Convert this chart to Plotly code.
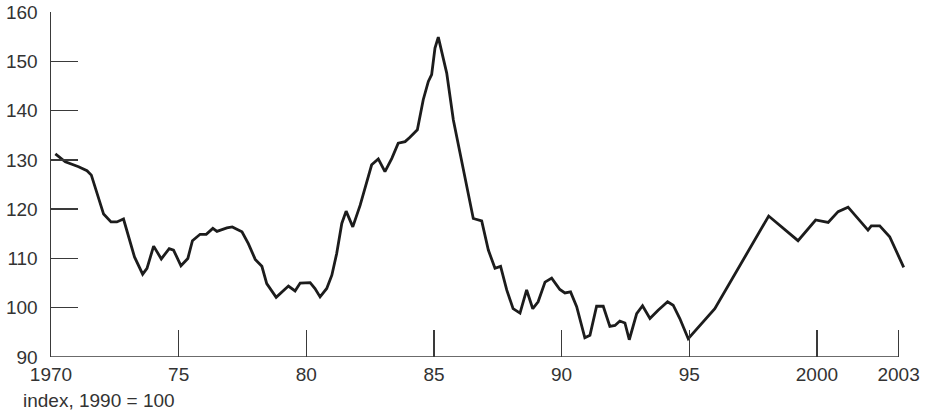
import plotly.graph_objects as go

# Decimal year positions and index values (1990 = 100)
years = [
    1970.17, 1970.56, 1971.08, 1971.41, 1971.58, 1971.80, 1972.06, 1972.35, 1972.58, 1972.84,
    1973.04, 1973.27, 1973.59, 1973.76, 1974.02, 1974.32, 1974.63, 1974.80, 1975.09, 1975.36,
    1975.54, 1975.84, 1976.08, 1976.34, 1976.50, 1976.89, 1977.10, 1977.48, 1977.73, 1978.00,
    1978.26, 1978.45, 1978.82, 1979.30, 1979.56, 1979.76, 1980.15, 1980.34, 1980.54, 1980.80,
    1981.00, 1981.19, 1981.39, 1981.56, 1981.82, 1982.11, 1982.56, 1982.82, 1983.08, 1983.35,
    1983.60, 1983.87, 1984.06, 1984.35, 1984.58, 1984.78, 1984.91, 1985.04, 1985.17, 1985.50,
    1985.76, 1986.09, 1986.54, 1986.87, 1987.13, 1987.39, 1987.61, 1987.85, 1988.10, 1988.37,
    1988.63, 1988.87, 1989.08, 1989.35, 1989.61, 1989.93, 1990.13, 1990.35, 1990.59, 1990.91,
    1991.11, 1991.37, 1991.63, 1991.89, 1992.09, 1992.28, 1992.48, 1992.65, 1992.94, 1993.17,
    1993.46, 1993.78, 1994.15, 1994.37, 1994.63, 1994.96, 1996.00, 1998.11, 1999.26, 1999.95,
    2000.44, 2000.83, 2001.22, 2002.00, 2002.13, 2002.46, 2002.85, 2003.40,
]
index_values = [
    131.2, 129.6, 128.6, 127.8, 126.9, 123.2, 119.0, 117.4, 117.4, 118.0,
    114.4, 110.3, 106.8, 108.0, 112.5, 109.9, 112.0, 111.7, 108.5, 110.0,
    113.6, 114.9, 114.9, 116.1, 115.5, 116.2, 116.4, 115.4, 113.0, 109.8,
    108.4, 104.9, 102.1, 104.4, 103.4, 105.0, 105.1, 103.9, 102.2, 103.9,
    106.6, 111.0, 117.1, 119.6, 116.4, 120.8, 129.0, 130.2, 127.6, 130.3,
    133.4, 133.7, 134.6, 136.1, 142.2, 145.9, 147.3, 152.7, 154.9, 147.6,
    138.1, 129.3, 118.1, 117.6, 111.7, 108.0, 108.4, 103.6, 99.8, 98.9,
    103.6, 99.8, 101.2, 105.2, 106.0, 103.7, 103.0, 103.2, 100.2, 93.9,
    94.4, 100.3, 100.3, 96.2, 96.4, 97.3, 96.9, 93.5, 98.8, 100.4,
    97.8, 99.5, 101.2, 100.5, 97.8, 93.7, 99.8, 118.6, 113.6, 117.8,
    117.3, 119.5, 120.4, 115.75, 116.6, 116.6, 114.4, 108.2,
]

x_tickvals = [1970, 1975, 1980, 1985, 1990, 1995, 2000, 2003.2]
x_ticktext = ["1970", "75", "80", "85", "90", "95", "2000", "2003"]
y_tickvals = [90, 100, 110, 120, 130, 140, 150, 160]
caption = "index, 1990 = 100"

FONT = "Liberation Sans, Arial, sans-serif"
AXIS = "#3a3a3a"

fig = go.Figure()
fig.add_trace(go.Scatter(
    x=years, y=index_values, mode="lines",
    line=dict(color="#1c1c1c", width=2.8),
    hoverinfo="skip", showlegend=False,
))

fig.add_shape(type="line", xref="x", yref="y", x0=1970, x1=2003.2, y0=90, y1=90,
              line=dict(color=AXIS, width=1.5))

fig.update_layout(
    width=925, height=411,
    margin=dict(l=51, r=20, t=12, b=54, autoexpand=False),
    paper_bgcolor="white", plot_bgcolor="white",
    font=dict(family=FONT, size=19, color="#333333"),
    xaxis=dict(
        range=[1970, 2003.45], showgrid=False, zeroline=False, showline=False,
        tickmode="array", tickvals=x_tickvals, ticktext=x_ticktext,
        ticks="inside", ticklen=27, tickwidth=1.5, tickcolor=AXIS,
        ticklabelstandoff=4, automargin=False,
    ),
    yaxis=dict(
        range=[90, 160], showgrid=False, zeroline=False,
        showline=True, linecolor=AXIS, linewidth=1.5,
        tickmode="array", tickvals=y_tickvals,
        ticks="inside", ticklen=27, tickwidth=1.5, tickcolor=AXIS,
        ticklabelstandoff=8, automargin=False,
    ),
    annotations=[dict(
        text=caption, xref="paper", yref="paper",
        x=-0.035, y=-0.125, xanchor="left", yanchor="middle",
        showarrow=False, font=dict(family=FONT, size=19, color="#333333"),
    )],
)

fig.write_html(
    "out.html",
    config={"displayModeBar": False, "staticPlot": True},
    post_script="document.body.style.margin='0';document.body.style.overflow='hidden';",
)
